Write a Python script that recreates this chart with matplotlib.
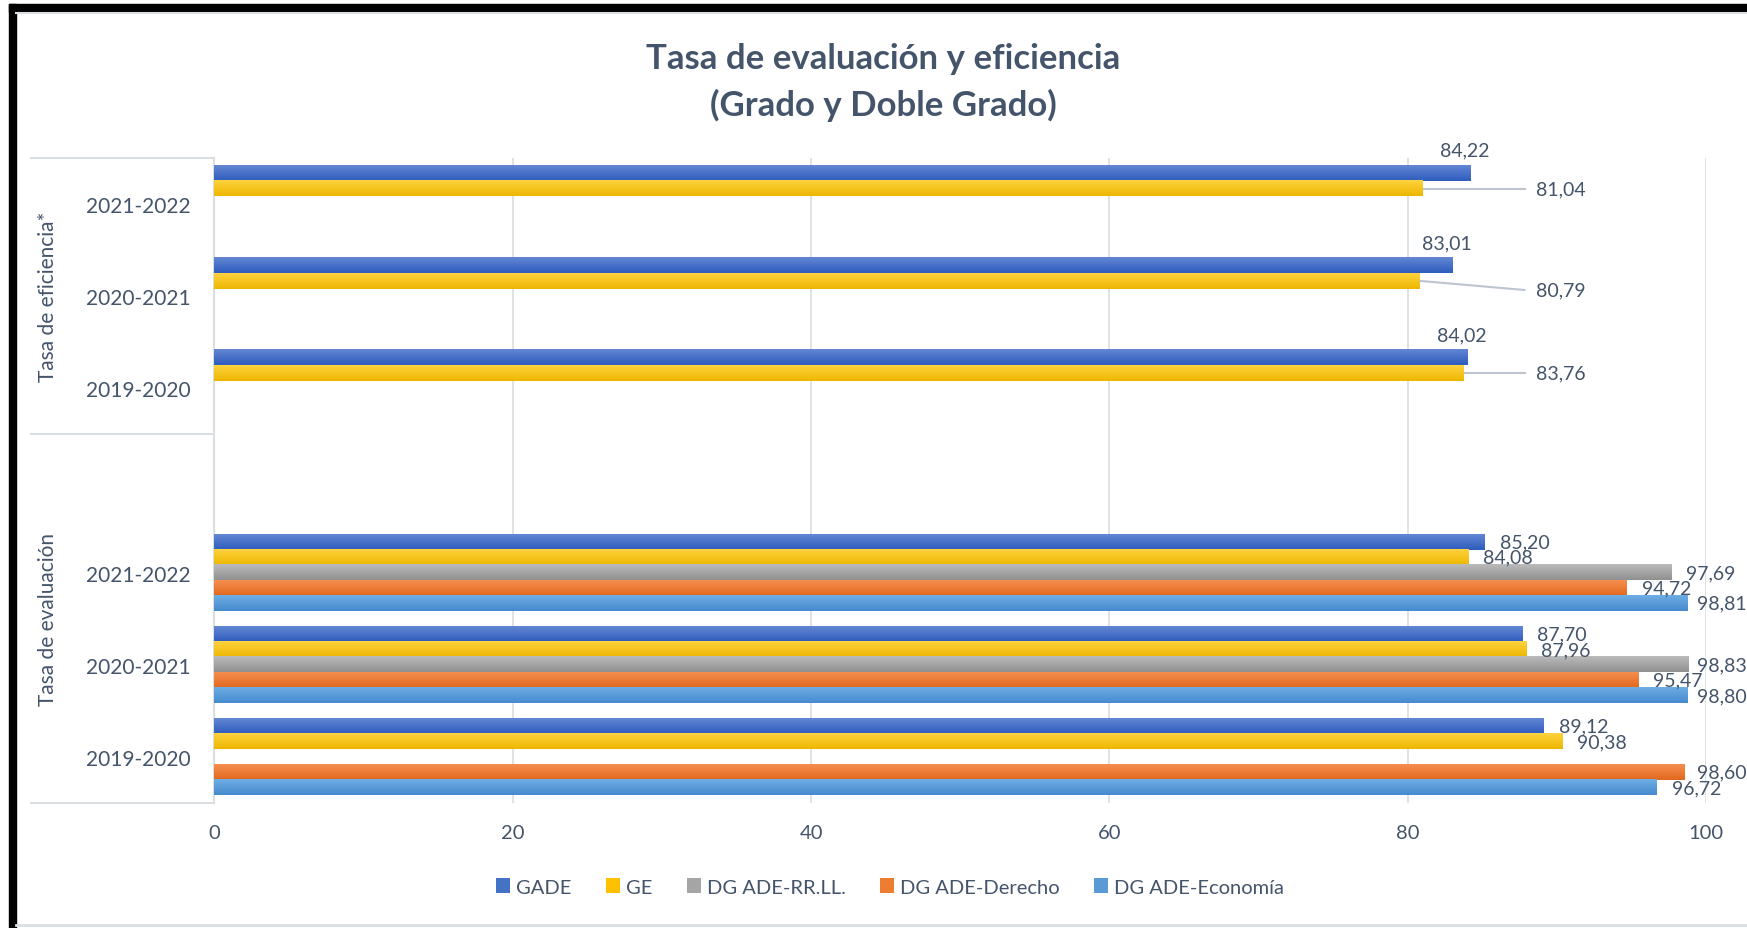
import numpy as np
import matplotlib
matplotlib.use("Agg")
import matplotlib.pyplot as plt
from matplotlib.colors import LinearSegmentedColormap
from matplotlib.patches import Patch, Rectangle
import matplotlib.transforms as mtransforms

plt.rcParams['font.family'] = ['Lato', 'DejaVu Sans']

# data
years = ["2019-2020", "2020-2021", "2021-2022"]
series = ["GADE", "GE", "DG ADE-RR.LL.", "DG ADE-Derecho", "DG ADE-Economía"]
# tasa de evaluación, one list per series, in year order
eval_gade = [89.12, 87.70, 85.20]
eval_ge = [90.38, 87.96, 84.08]
eval_rrll = [np.nan, 98.83, 97.69]
eval_derecho = [98.60, 95.47, 94.72]
eval_economia = [96.72, 98.80, 98.81]
# tasa de eficiencia* (only GADE and GE)
efic_gade = [84.02, 83.01, 84.22]
efic_ge = [83.76, 80.79, 81.04]

group_names = ["Tasa de evaluación", "Tasa de eficiencia*"]
title_lines = ["Tasa de evaluación y eficiencia", "(Grado y Doble Grado)"]

# gradient colours top -> bottom, and the flat colour for the legend
grad = [("#6386D4", "#2E5DBD", "#4472C4"),
        ("#FFD23F", "#EDB700", "#FFC000"),
        ("#BABABA", "#919191", "#A5A5A5"),
        ("#F58E50", "#E2681D", "#ED7D31"),
        ("#6EADE3", "#468BCF", "#5B9BD5")]
txt_col = "#44546A"

fig = plt.figure(figsize=(17.47, 9.29), dpi=100)
W, H = 1747, 929

# outer frame (black on top/left, light grey chart border)
fig.patches.append(Rectangle((9 / W, 0), 7 / W, 1 - 5 / H, transform=fig.transFigure,
                             color="black", zorder=0))
fig.patches.append(Rectangle((9 / W, 1 - 12.5 / H), 1 - 9 / W, 7.5 / H,
                             transform=fig.transFigure, color="black", zorder=0))
fig.lines.append(plt.Line2D([16 / W, 1], [1 - 13.5 / H, 1 - 13.5 / H], transform=fig.transFigure,
                            color="#DADFE4", lw=1.5))
fig.lines.append(plt.Line2D([16 / W, 1], [3 / H, 3 / H], transform=fig.transFigure,
                            color="#DADFE4", lw=2))

ax = fig.add_axes([214.4 / W, (929 - 804) / H, (1706 - 214.4) / W, (804 - 159) / H])

# slot positions: evaluación years at 0,1,2, empty slot 3, eficiencia at 4,5,6
eval_pos = np.arange(3)
efic_pos = np.arange(3) + 4
bh = 1 / 6
offsets = [2 * bh, bh, 0, -bh, -2 * bh]
lab_fs = 14


def gbar(y, w, k):
    if np.isnan(w):
        return
    top, bot, flat = grad[k]
    ax.barh(y, w, height=bh, color=flat, zorder=2)
    cmap = LinearSegmentedColormap.from_list("g%d" % k, [top, bot])
    img = np.linspace(0, 1, 32).reshape(-1, 1)
    ax.imshow(img, cmap=cmap, aspect="auto", interpolation="bilinear", origin="upper",
              extent=(0, w, y - bh / 2, y + bh / 2), zorder=3)


eval_series = [eval_gade, eval_ge, eval_rrll, eval_derecho, eval_economia]
for k, vals in enumerate(eval_series):
    for p, v in zip(eval_pos, vals):
        y = p + offsets[k]
        gbar(y, v, k)
        if not np.isnan(v):
            ax.text(min(v + 1.0, 99.37), y, ("%.2f" % v).replace(".", ","), ha="left",
                    va="center", fontsize=lab_fs, color=txt_col, zorder=5)

for p, v in zip(efic_pos, efic_gade):
    y = p + offsets[0]
    gbar(y, v, 0)
    ax.text(v - 0.4, y + 0.25, ("%.2f" % v).replace(".", ","), ha="center", va="center",
            fontsize=lab_fs, color=txt_col, zorder=5)

ge_dy = [0, -0.1, 0]
for p, v, dy in zip(efic_pos, efic_ge, ge_dy):
    y = p + offsets[1]
    gbar(y, v, 1)
    ax.plot([v, 87.9], [y, y + dy], color="#BCC5D0", lw=1.5, zorder=4, solid_capstyle="butt")
    ax.text(88.6, y + dy, ("%.2f" % v).replace(".", ","), ha="left", va="center",
            fontsize=lab_fs, color=txt_col, zorder=5)

ax.set_xlim(0, 100)
ax.set_ylim(-0.5, 6.5)
ax.set_xticks(np.arange(0, 101, 20))
ax.set_yticks(list(eval_pos) + list(efic_pos))
ax.set_yticklabels(years + years)
ax.tick_params(axis="x", length=0, pad=15, labelsize=14.5, labelcolor=txt_col)
ax.tick_params(axis="y", length=0, pad=17, labelsize=15, labelcolor=txt_col)
ax.grid(axis="x", color="#DADFE4", lw=1.3, zorder=0)
ax.set_axisbelow(True)
for s in ["top", "right", "bottom"]:
    ax.spines[s].set_visible(False)
ax.spines["left"].set_color("#DADFE4")
ax.spines["left"].set_linewidth(1.5)

# category group box on the left
tr = mtransforms.blended_transform_factory(ax.transAxes, ax.transData)
x_box = (31 - 214.4) / (1706 - 214.4)
for yb in [-0.5, 3.5, 6.5]:
    ax.plot([x_box, 0], [yb, yb], transform=tr, color="#DADFE4", lw=1.5, clip_on=False)
x_grp = (48.5 - 214.4) / (1706 - 214.4)
ax.text(x_grp, 1.5, group_names[0], transform=tr, rotation=90, ha="center", va="center",
        fontsize=15, color=txt_col)
ax.text(x_grp, 5.0, group_names[1], transform=tr, rotation=90, ha="center", va="center",
        fontsize=15, color=txt_col)

# title, two lines at the reference baselines
fig.text(883 / W, 1 - 69 / H, title_lines[0], ha="center", va="baseline", fontsize=25,
         fontweight="bold", color=txt_col)
fig.text(883 / W, 1 - 116 / H, title_lines[1], ha="center", va="baseline", fontsize=25,
         fontweight="bold", color=txt_col)

handles = [Patch(facecolor=g[2], edgecolor="none") for g in grad]
fig.legend(handles, series, loc="center", bbox_to_anchor=(890 / W, 1 - 888 / H), ncol=5,
           frameon=False, fontsize=14.5, labelcolor=txt_col, handlelength=0.7,
           handleheight=0.7, handletextpad=0.3, columnspacing=1.7)

fig.savefig("out.png", dpi=100, facecolor="white")
